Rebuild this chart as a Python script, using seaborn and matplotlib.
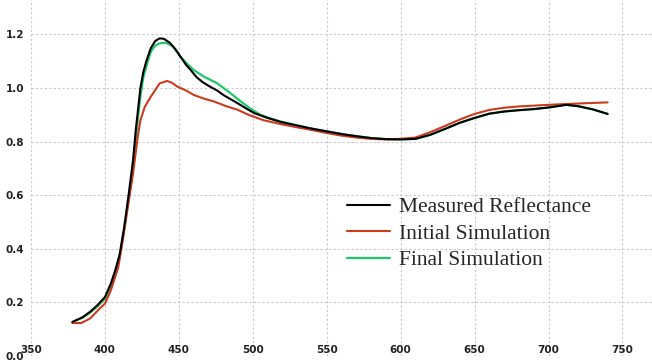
import matplotlib
matplotlib.use("Agg")
import matplotlib.pyplot as plt
from matplotlib.font_manager import FontProperties
import seaborn as sns

# wavelength (nm) / reflectance
measured_nm = [378, 385, 390, 395, 400, 404, 407, 410, 413, 416, 419, 421, 424, 426, 428,
               431, 434, 437, 440, 444, 448, 451, 455, 458, 462, 466, 471, 476, 480, 485,
               490, 495, 501, 510, 519, 530, 540, 550, 560, 570, 580, 590, 600, 610, 620,
               630, 640, 650, 660, 670, 680, 690, 700, 712, 720, 730, 740]
measured_r = [0.127, 0.145, 0.165, 0.19, 0.22, 0.27, 0.32, 0.38, 0.48, 0.60, 0.73, 0.85, 1.0, 1.06, 1.10,
              1.148, 1.175, 1.185, 1.183, 1.168, 1.142, 1.117, 1.085, 1.067, 1.04, 1.022, 1.005, 0.99, 0.974, 0.958,
              0.942, 0.925, 0.906, 0.888, 0.873, 0.86, 0.848, 0.838, 0.828, 0.82, 0.813, 0.809, 0.808, 0.81, 0.825,
              0.847, 0.87, 0.888, 0.904, 0.912, 0.917, 0.921, 0.927, 0.937, 0.932, 0.92, 0.903]

initial_nm = [378, 384, 390, 397, 400, 404, 409, 412, 415.5, 419, 422, 424, 427, 431, 437,
              442, 445, 449, 455, 460, 467, 474, 482, 490, 497, 507, 519, 530, 540, 550,
              560, 570, 580, 590, 600, 610, 620, 630, 640, 650, 660, 670, 680, 690, 700,
              712, 725, 740]
initial_r = [0.123, 0.123, 0.14, 0.18, 0.195, 0.245, 0.33, 0.43, 0.556, 0.68, 0.81, 0.88, 0.93, 0.967, 1.017,
             1.026, 1.02, 1.005, 0.99, 0.974, 0.96, 0.949, 0.932, 0.918, 0.90, 0.88, 0.865, 0.853, 0.843, 0.832,
             0.822, 0.815, 0.81, 0.808, 0.81, 0.815, 0.835, 0.858, 0.882, 0.903, 0.918, 0.926, 0.931, 0.934, 0.937,
             0.94, 0.943, 0.946]

final_nm = [378, 385, 390, 395, 400, 404, 407, 410, 413, 416, 419, 421, 424, 426, 428,
            431, 434, 437, 441, 446, 451, 456, 460, 467, 476, 485, 492, 497, 505, 512,
            520, 530, 540, 550, 560, 570, 580, 590, 600, 610, 620, 630, 640, 650, 660,
            670, 680, 690, 700, 712, 720, 730, 740]
final_r = [0.127, 0.143, 0.162, 0.185, 0.213, 0.26, 0.31, 0.37, 0.47, 0.59, 0.70, 0.82, 0.97, 1.04, 1.08,
           1.135, 1.158, 1.166, 1.169, 1.155, 1.117, 1.088, 1.067, 1.042, 1.017, 0.98, 0.949, 0.928, 0.90, 0.886,
           0.873, 0.86, 0.848, 0.838, 0.828, 0.82, 0.813, 0.809, 0.808, 0.81, 0.825, 0.847, 0.87, 0.888, 0.904,
           0.912, 0.917, 0.921, 0.927, 0.937, 0.932, 0.92, 0.903]

x_ticks = [350, 400, 450, 500, 550, 600, 650, 700, 750]
y_ticks = [0.0, 0.2, 0.4, 0.6, 0.8, 1.0, 1.2]

sns.set_style("white")

fig = plt.figure(figsize=(6.52, 3.6), dpi=100)
ax = fig.add_axes([31 / 652, 4 / 360, 621 / 652, 356 / 360])

sns.lineplot(x=final_nm, y=final_r, ax=ax, color="#1ec76c", lw=1.6, label="Final Simulation")
sns.lineplot(x=initial_nm, y=initial_r, ax=ax, color="#cc3a1e", lw=1.5, label="Initial Simulation")
sns.lineplot(x=measured_nm, y=measured_r, ax=ax, color="black", lw=1.5, label="Measured Reflectance")

ax.set_xlim(350, 770)
ax.set_ylim(0, 1.328)
ax.set_xticks(x_ticks)
ax.set_yticks(y_ticks)
ax.set_yticklabels([f"{v:.1f}" for v in y_ticks])
ax.grid(True, color="#c8c8c8", linestyle=(0, (2, 2)), linewidth=0.8)
for s in ax.spines.values():
    s.set_visible(False)

tick_font = FontProperties(family="Liberation Sans Narrow", weight="bold", size=7.5)
for lab in ax.get_xticklabels() + ax.get_yticklabels():
    lab.set_fontproperties(tick_font)
ax.tick_params(axis="x", length=0, pad=-8, colors="#222222")
ax.tick_params(axis="y", length=0, pad=5, colors="#222222")
ax.set_xlabel("")
ax.set_ylabel("")

handles, labels = ax.get_legend_handles_labels()
order = [2, 1, 0]
ax.legend([handles[i] for i in order], [labels[i] for i in order],
          loc="center left", bbox_to_anchor=(347 / 652, 0.351), bbox_transform=fig.transFigure,
          frameon=False, borderpad=0, borderaxespad=0,
          prop=dict(family="Liberation Serif", size=15.5),
          handlelength=2.0, handletextpad=0.42, labelspacing=0.3)

fig.savefig("out.png", dpi=100)
